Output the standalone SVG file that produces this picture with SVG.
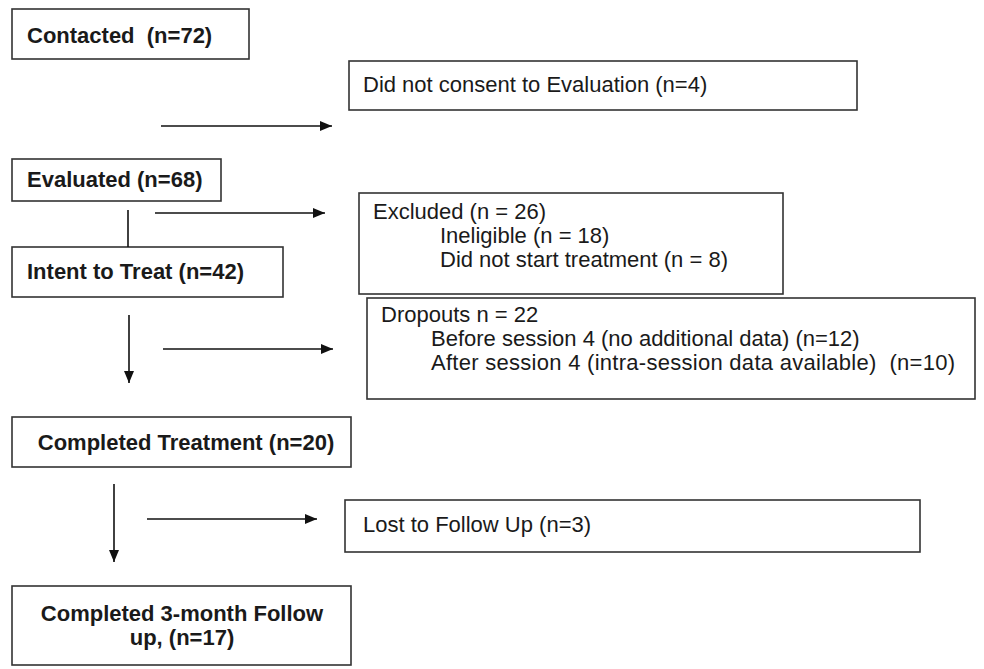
<svg xmlns="http://www.w3.org/2000/svg" width="984" height="669" viewBox="0 0 984 669">
<style>
.box{fill:#fff;stroke:#333;stroke-width:1.6}
.t{font-family:"Liberation Sans",Arial,sans-serif;font-size:22px;fill:#1a1a1a;white-space:pre}
.b{font-weight:bold}
.c{fill:none;stroke:#111;stroke-width:1.6}
</style>
<defs>
<marker id="ah" viewBox="0 0 12 10" refX="12" refY="5" markerWidth="12" markerHeight="10" markerUnits="userSpaceOnUse" orient="auto">
<path d="M0,0 L12,5 L0,10 z" fill="#111"/>
</marker>
</defs>
<rect width="984" height="669" fill="#fff"/>
<g id="contacted"><rect class="box" x="12" y="9" width="237" height="50"/><text class="t b" x="27" y="43" xml:space="preserve">Contacted  (n=72)</text></g>
<g id="noconsent"><rect class="box" x="349" y="61" width="508" height="49"/><text class="t" x="363" y="92">Did not consent to Evaluation (n=4)</text></g>
<g id="evaluated"><rect class="box" x="12" y="159" width="209" height="42"/><text class="t b" x="27" y="187">Evaluated (n=68)</text></g>
<g id="intent"><rect class="box" x="12" y="247" width="271" height="50"/><text class="t b" x="27" y="279">Intent to Treat (n=42)</text></g>
<g id="excluded"><rect class="box" x="359" y="193" width="424" height="101"/>
<text class="t" x="373" y="219">Excluded (n = 26)</text>
<text class="t" x="440" y="243">Ineligible (n = 18)</text>
<text class="t" x="440" y="267">Did not start treatment (n = 8)</text></g>
<g id="dropouts"><rect class="box" x="367" y="298" width="608" height="101"/>
<text class="t" x="381" y="322">Dropouts n = 22</text>
<text class="t" x="431" y="346">Before session 4 (no additional data) (n=12)</text>
<text class="t" x="431" y="370" xml:space="preserve" textLength="524" lengthAdjust="spacing">After session 4 (intra-session data available)  (n=10)</text></g>
<g id="completed"><rect class="box" x="12" y="417" width="339" height="50"/><text class="t b" x="186" y="450" text-anchor="middle">Completed Treatment (n=20)</text></g>
<g id="lost"><rect class="box" x="345" y="500" width="575" height="52"/><text class="t" x="363" y="532">Lost to Follow Up (n=3)</text></g>
<g id="followup"><rect class="box" x="12" y="586" width="339" height="79"/>
<text class="t b" x="182" y="621" text-anchor="middle">Completed 3-month Follow</text>
<text class="t b" x="182" y="645" text-anchor="middle">up, (n=17)</text></g>
<g id="connectors">
<line class="c" x1="161" y1="126" x2="332" y2="126" marker-end="url(#ah)"/>
<line class="c" x1="128" y1="210" x2="128" y2="247"/>
<line class="c" x1="155" y1="213" x2="325" y2="213" marker-end="url(#ah)"/>
<line class="c" x1="129" y1="315" x2="129" y2="383" marker-end="url(#ah)"/>
<line class="c" x1="163" y1="349" x2="333" y2="349" marker-end="url(#ah)"/>
<line class="c" x1="114" y1="484" x2="114" y2="562" marker-end="url(#ah)"/>
<line class="c" x1="147" y1="519" x2="317" y2="519" marker-end="url(#ah)"/>
</g>
</svg>
